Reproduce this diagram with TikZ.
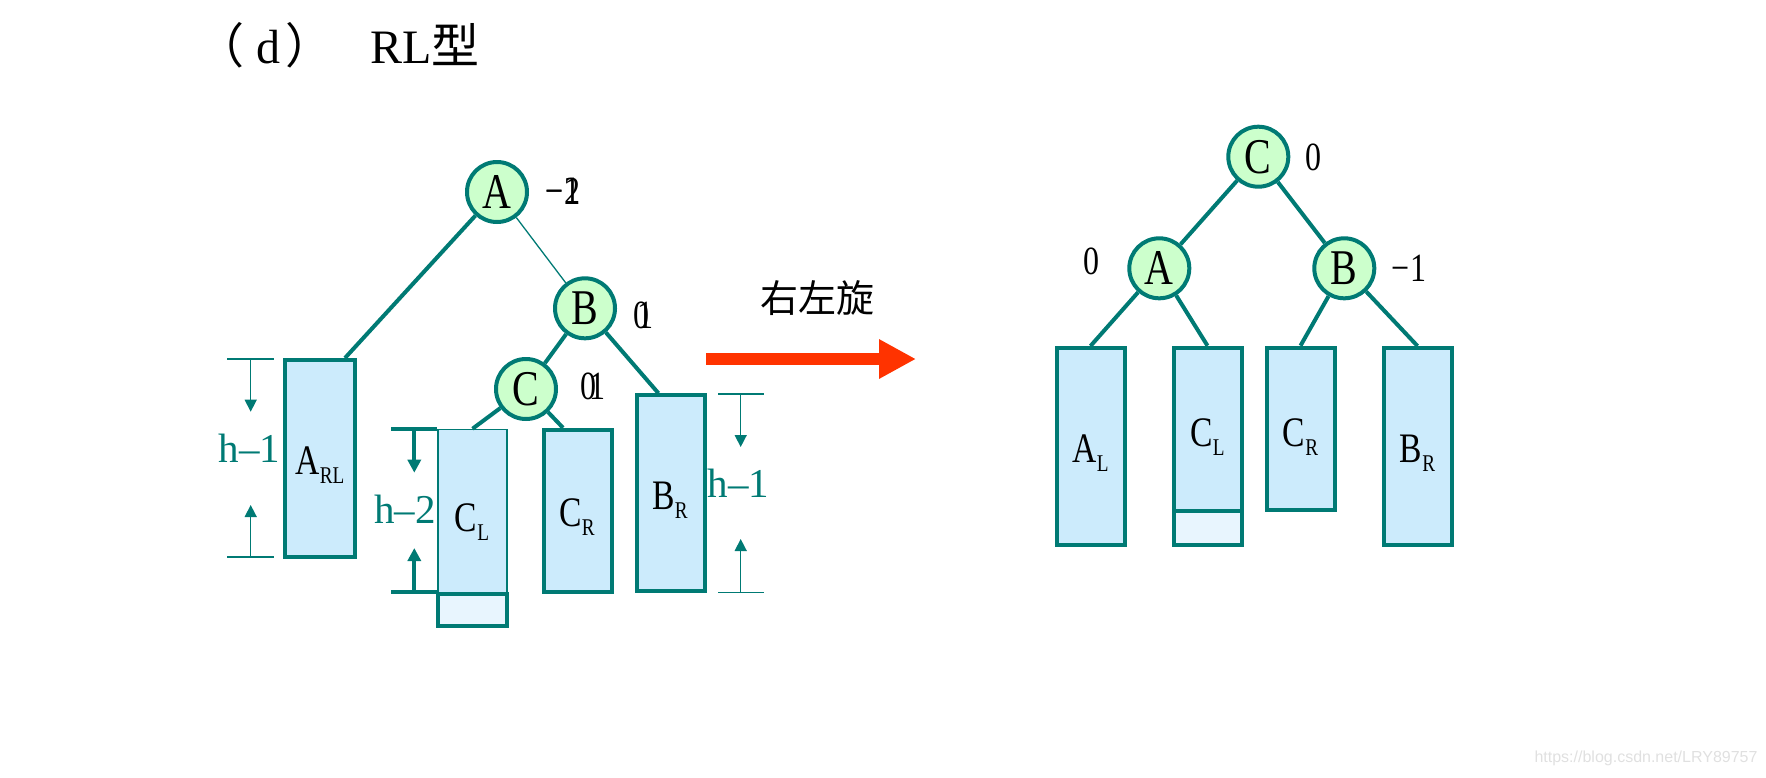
\documentclass[tikz,border=0pt]{standalone}
\usepackage{fontspec}
\setmainfont{Liberation Serif}
\newfontfamily\cnfont{Noto Sans CJK SC}
\newfontfamily\condfont[FakeStretch=0.8]{Liberation Serif}
\newfontfamily\wmfont{Liberation Sans}
\usetikzlibrary{arrows.meta}
\definecolor{tealc}{RGB}{0,122,116}
\definecolor{nodefill}{RGB}{204,255,204}
\definecolor{boxfill}{RGB}{204,235,252}
\definecolor{extrafill}{RGB}{232,245,254}
\definecolor{arrowred}{RGB}{255,51,0}
\newcommand{\myfs}[1]{\fontsize{#1}{#1}\selectfont}
\newcommand{\boxlab}[2]{{\myfs{42}#1}\raisebox{-9pt}{\myfs{24}#2}}
\tikzset{
  circ/.style={circle, draw=tealc, fill=nodefill, line width=4pt, minimum size=60pt, inner sep=0pt, font=\condfont\myfs{50}},
  treeedge/.style={draw=tealc, line width=4pt},
  thinedge/.style={draw=tealc, line width=1.3pt},
  subtree/.style={rectangle, draw=tealc, fill=boxfill, line width=4pt, minimum width=68pt, inner sep=0pt},
  thinbox/.style={subtree, line width=1.5pt},
  extrabox/.style={subtree, fill=extrafill, minimum height=33pt},
  tallbox/.style={minimum height=197pt},
  shortbox/.style={minimum height=162pt},
  bal/.style={font=\condfont\myfs{40}, inner sep=0pt},
  hlab/.style={text=tealc, font=\myfs{41}, inner sep=0pt},
  boxtext/.style={inner sep=0pt, font=\condfont},
  dimthin/.style={draw=tealc, line width=1.5pt},
  dimthick/.style={draw=tealc, line width=4pt},
  dimtip/.style={-{Triangle[width=12pt,length=12pt]}},
  dimtipthick/.style={-{Triangle[width=13pt,length=13pt]}},
}
\begin{document}
\begin{tikzpicture}[x=1pt,y=-1pt]
\useasboundingbox (0,0) rectangle (1766,777);
% title
\node[anchor=base west, inner sep=0pt, font=\myfs{48}] (title1) at (196,63) {{\cnfont （}\hspace{12pt}d\hspace{5pt}{\cnfont ）}};
\node[anchor=base west, inner sep=0pt, font=\myfs{48}] (title2) at (370,63) {RL{\cnfont 型}};

% ---------- left tree ----------
\node[subtree, tallbox, minimum width=70pt] (ARL) at (320,458.5) {};
\node[thinbox, minimum width=69pt, minimum height=163pt] (CL) at (472.5,511) {};
\node[extrabox, minimum width=69pt, minimum height=32pt] (CLx) at (472.5,609.5) {};
\node[subtree, shortbox] (CR) at (578,510.8) {};
\node[subtree, tallbox, minimum height=196pt] (BR) at (670.5,493.3) {};

\node[circ] (A) at (497,192) {A};
\node[circ] (B) at (585,308.3) {B};
\node[circ] (C) at (526,389) {C};

\draw[treeedge] (A) -- ([xshift=-12pt]ARL.north east);
\draw[thinedge] (A) -- (B);
\draw[treeedge] (B) -- (C);
\draw[treeedge] (B) -- ([xshift=24pt]BR.north west);
\draw[treeedge] (C) -- (CL.north);
\draw[treeedge] (C) -- ([xshift=21pt]CR.north west);

\node[bal] (balA1) at (563,191) {−2};
\node[bal] (balA2) at (563,191) {−1};
\node[bal] (balB1) at (641,315) {0};
\node[bal] (balB2) at (645,315) {1};
\node[bal] (balC1) at (588,386) {0};
\node[bal] (balC2) at (597,386) {1};

\node[boxtext] (tARL) at (320,465) {\boxlab{A}{RL}};
\node[boxtext] (tCL) at (472,521.7) {\boxlab{C}{L}};
\node[boxtext] (tCR) at (577,516.7) {\boxlab{C}{R}};
\node[boxtext] (tBR) at (670,500) {\boxlab{B}{R}};

% dimension h-1 (left)
\coordinate (d1t) at (250.7,359);
\coordinate (d1ta) at (250.7,411.7);
\coordinate (d1b) at (250.7,557);
\coordinate (d1ba) at (250.7,505);
\draw[dimthin] (227,359) -- (274,359);
\draw[dimthin] (227,557) -- (274,557);
\draw[dimthin, dimtip, fill=tealc] (d1t) -- (d1ta);
\draw[dimthin, dimtip, fill=tealc] (d1b) -- (d1ba);
\node[hlab] (h1L) at (249.5,448.3) {h–1};

% dimension h-2
\coordinate (d2t) at (414.3,429.3);
\coordinate (d2ta) at (414.3,472.7);
\coordinate (d2b) at (414.3,592.3);
\coordinate (d2ba) at (414.3,548);
\draw[dimthick] (391,429.3) -- (437,429.3);
\draw[dimthick] (391,592.3) -- (437,592.3);
\draw[dimthick, dimtipthick, fill=tealc] (d2t) -- (d2ta);
\draw[dimthick, dimtipthick, fill=tealc] (d2b) -- (d2ba);
\node[hlab] (h2) at (405,509) {h–2};

% dimension h-1 (right)
\coordinate (d3t) at (740.7,394);
\coordinate (d3ta) at (740.7,447);
\coordinate (d3b) at (740.7,592.3);
\coordinate (d3ba) at (740.7,539);
\draw[dimthin] (718,394) -- (764,394);
\draw[dimthin] (718,592.3) -- (764,592.3);
\draw[dimthin, dimtip, fill=tealc] (d3t) -- (d3ta);
\draw[dimthin, dimtip, fill=tealc] (d3b) -- (d3ba);
\node[hlab] (h1R) at (738.3,483.3) {h–1};

% ---------- arrow ----------
\node[inner sep=0pt, font=\cnfont\myfs{38}] (rot) at (817,298) {右左旋};
\coordinate (arrS) at (706,359);
\coordinate (arrE) at (916,359);
\draw[arrowred, line width=12pt, -{Triangle[width=37pt,length=37pt]}] (arrS) -- (arrE);

% ---------- right tree ----------
\node[subtree, tallbox] (rAL) at (1090.5,446.5) {};
\node[subtree, minimum height=163.3pt] (rCL) at (1207.5,429.4) {};
\node[extrabox, minimum height=34.3pt] (rCLx) at (1207.5,528.2) {};
\node[subtree, shortbox] (rCR) at (1300.5,428.7) {};
\node[subtree, tallbox] (rBR) at (1417.5,446.5) {};

\node[circ] (rC) at (1258.3,156.7) {C};
\node[circ] (rA) at (1159.3,268.3) {A};
\node[circ] (rB) at (1344.3,268.3) {B};

\draw[treeedge] (rC) -- (rA);
\draw[treeedge] (rC) -- (rB);
\draw[treeedge] (rA) -- (rAL.north);
\draw[treeedge] (rA) -- (rCL.north);
\draw[treeedge] (rB) -- (rCR.north);
\draw[treeedge] (rB) -- (rBR.north);

\node[bal] (rbalC) at (1313,157) {0};
\node[bal] (rbalA) at (1091.7,261) {0};
\node[bal] (rbalB) at (1409,268) {−1};

\node[boxtext] (rtAL) at (1090.5,453) {\boxlab{A}{L}};
\node[boxtext] (rtCL) at (1207.5,436.7) {\boxlab{C}{L}};
\node[boxtext] (rtCR) at (1300.5,436.7) {\boxlab{C}{R}};
\node[boxtext] (rtBR) at (1417.5,453) {\boxlab{B}{R}};

% watermark
\node[inner sep=0pt, text=black!12, font=\wmfont\myfs{16}] (wm) at (1646,758) {https://blog.csdn.net/LRY89757};
\end{tikzpicture}
\end{document}
